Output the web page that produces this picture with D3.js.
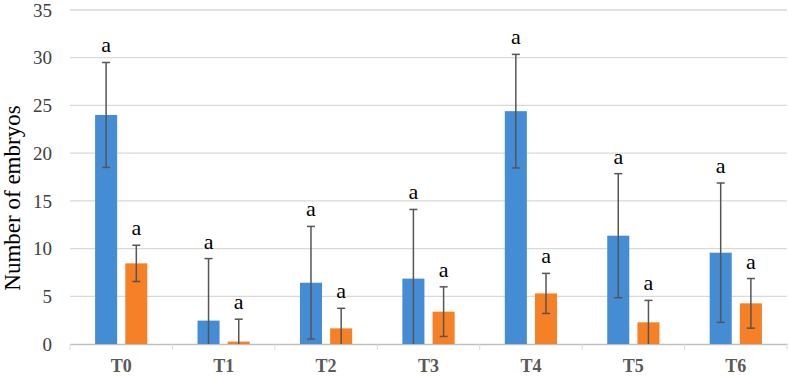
<!DOCTYPE html>
<html>
<head>
<meta charset="utf-8">
<script src="https://cdn.jsdelivr.net/npm/d3@7"></script>
<style>
  body { margin: 0; background: #fff; }
</style>
</head>
<body>
<div id="chart"></div>
<script>
const categories = ['T0', 'T1', 'T2', 'T3', 'T4', 'T5', 'T6'];
const seriesA = [24.0, 2.45, 6.42, 6.85, 24.4, 11.35, 9.57];
const errorsA = [5.5, 6.5, 5.9, 7.25, 5.95, 6.5, 7.3];
const seriesB = [8.45, 0.25, 1.64, 3.39, 5.3, 2.27, 4.26];
const errorsB = [1.9, 2.35, 2.1, 2.6, 2.1, 2.3, 2.6];
const letters = ['a', 'a', 'a', 'a', 'a', 'a', 'a'];
const yTicks = [0, 5, 10, 15, 20, 25, 30, 35];

const width = 789;
const height = 376;
const margin = { top: 10, right: 2, bottom: 32, left: 70 };
const serif = "'Liberation Serif', serif";

const svg = d3.select('#chart').append('svg')
  .attr('width', width)
  .attr('height', height)
  .style('font-family', serif);

const x = d3.scaleBand()
  .domain(categories)
  .range([margin.left, width - margin.right])
  .paddingInner(0)
  .paddingOuter(0);

const y = d3.scaleLinear()
  .domain([0, 35])
  .range([height - margin.bottom, margin.top]);

const inner = d3.scaleBand()
  .domain(['A', 'B'])
  .range([x.bandwidth() * 0.245, x.bandwidth() * 0.755])
  .paddingInner(0.27);

// gridlines
svg.append('g')
  .selectAll('line')
  .data(yTicks.filter(d => d > 0))
  .join('line')
  .attr('x1', margin.left)
  .attr('x2', width - margin.right)
  .attr('y1', d => y(d))
  .attr('y2', d => y(d))
  .attr('stroke', '#d9d9d9')
  .attr('stroke-width', 1.3);

// y tick labels
svg.append('g')
  .selectAll('text')
  .data(yTicks)
  .join('text')
  .attr('x', 52)
  .attr('y', d => y(d))
  .attr('dy', '0.35em')
  .attr('text-anchor', 'end')
  .style('font-size', '19px')
  .attr('fill', '#404040')
  .text(d => d);

// x axis
const xAxis = d3.axisBottom(x).tickSize(0).tickFormat('');
const gx = svg.append('g')
  .attr('transform', `translate(0,${y(0)})`)
  .call(xAxis);
gx.select('.domain').attr('stroke', '#bfbfbf').attr('stroke-width', 1.3);

// boundary ticks between categories
svg.append('g')
  .selectAll('line')
  .data(categories.concat(['end']))
  .join('line')
  .attr('x1', (d, i) => (i < categories.length ? x(d) : x.range()[1]))
  .attr('x2', (d, i) => (i < categories.length ? x(d) : x.range()[1]))
  .attr('y1', y(0))
  .attr('y2', y(0) + 6)
  .attr('stroke', '#d9d9d9');

// category labels
svg.append('g')
  .selectAll('text')
  .data(categories)
  .join('text')
  .attr('x', d => x(d) + x.bandwidth() / 2)
  .attr('y', 372)
  .attr('text-anchor', 'middle')
  .style('font-size', '18px')
  .style('font-weight', 'bold')
  .attr('fill', '#595959')
  .text(d => d);

// y title
svg.append('text')
  .attr('transform', `translate(20,198) rotate(-90)`)
  .attr('text-anchor', 'middle')
  .style('font-size', '23px')
  .attr('fill', '#000')
  .text('Number of embryos');

const series = [
  { key: 'A', values: seriesA, errors: errorsA, color: '#448dd4' },
  { key: 'B', values: seriesB, errors: errorsB, color: '#f58025' },
];

series.forEach((s) => {
  const rows = categories.map((c, i) => ({
    cat: c, value: s.values[i], err: s.errors[i], letter: letters[i],
  }));
  const cx = d => x(d.cat) + inner(s.key) + inner.bandwidth() / 2;
  const g = svg.append('g');

  g.selectAll('rect')
    .data(rows)
    .join('rect')
    .attr('x', d => x(d.cat) + inner(s.key))
    .attr('width', inner.bandwidth())
    .attr('y', d => y(d.value))
    .attr('height', d => y(0) - y(d.value))
    .attr('fill', s.color);

  // error bars
  const eb = g.selectAll('g.err')
    .data(rows)
    .join('g')
    .attr('class', 'err')
    .attr('stroke', '#555')
    .attr('stroke-width', 1.5);

  eb.append('line')
    .attr('x1', cx).attr('x2', cx)
    .attr('y1', d => y(d.value + d.err))
    .attr('y2', d => y(Math.max(0, d.value - d.err)));

  eb.append('line')
    .attr('x1', d => cx(d) - 4).attr('x2', d => cx(d) + 4)
    .attr('y1', d => y(d.value + d.err))
    .attr('y2', d => y(d.value + d.err));

  eb.filter(d => d.value - d.err > 0)
    .append('line')
    .attr('x1', d => cx(d) - 4).attr('x2', d => cx(d) + 4)
    .attr('y1', d => y(d.value - d.err))
    .attr('y2', d => y(d.value - d.err));

  // letters
  g.selectAll('text.letter')
    .data(rows)
    .join('text')
    .attr('class', 'letter')
    .attr('x', cx)
    .attr('y', d => y(d.value + d.err) - 10)
    .attr('text-anchor', 'middle')
    .style('font-size', '22px')
    .attr('fill', '#000')
    .text(d => d.letter);
});
</script>
</body>
</html>
